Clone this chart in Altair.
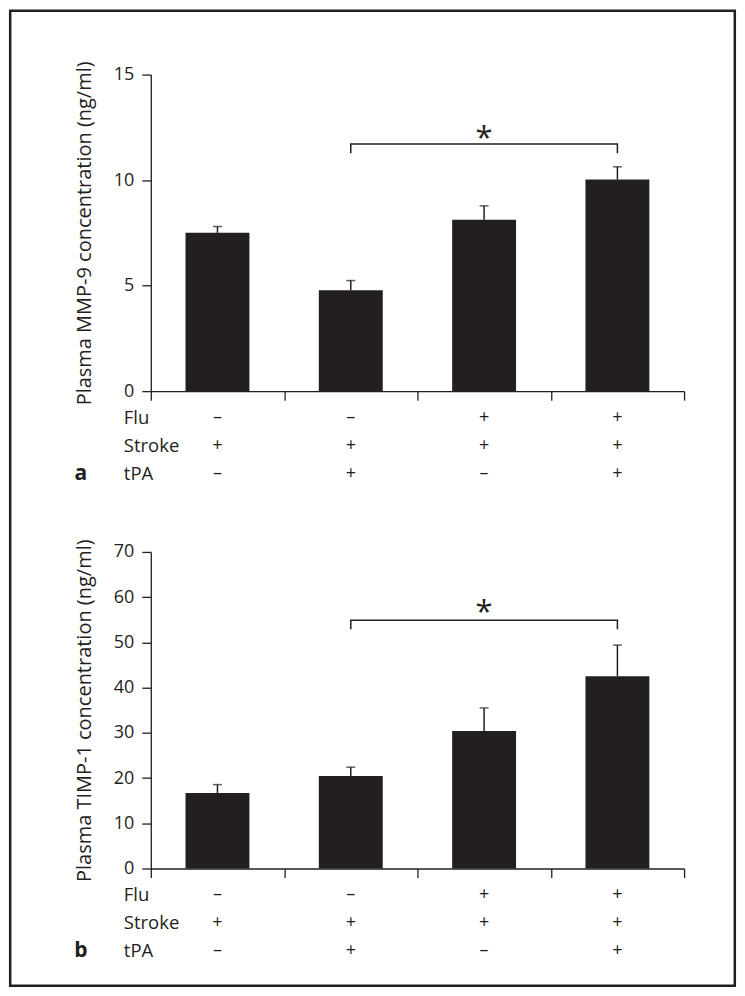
import altair as alt
import pandas as pd

# ---------------- data ----------------
groups = ["G1", "G2", "G3", "G4"]
flu = ["–", "–", "+", "+"]
stroke = ["+", "+", "+", "+"]
tpa = ["–", "+", "–", "+"]
row_labels = ["Flu", "Stroke", "tPA"]

mmp9_mean = [7.5, 4.78, 8.12, 10.03]
mmp9_upper = [7.8, 5.24, 8.78, 10.63]
timp1_mean = [16.7, 20.45, 30.4, 42.5]
timp1_upper = [18.55, 22.4, 35.5, 49.4]

bracket_groups = ["G2", "G4"]
mmp9_bracket = [11.27, 11.71]   # tip, top
timp1_bracket = [52.9, 54.9]
mmp9_star = 12.3
timp1_star = 58.0
star_group = "G3"

INK = "#231f20"
FONT = "Open Sans"
W, H = 534, 317
ROW_Y = [344, 372, 400]


def panel(mean, upper, bracket, star, ymax, ticks, title, letter, frame=False):
    df = pd.DataFrame({"group": groups, "mean": mean, "upper": upper,
                       "flu": flu, "stroke": stroke, "tpa": tpa})
    yscale = alt.Scale(domain=[0, ymax], nice=False, zero=True)
    xscale = alt.Scale(domain=groups, paddingInner=0, paddingOuter=0)
    xaxis = alt.Axis(title=None, labels=False, tickBand="extent", tickSize=9,
                     domainColor=INK, tickColor=INK, domainWidth=1.3, tickWidth=1.3)
    yaxis = alt.Axis(title=title, values=ticks, tickSize=9, labelPadding=8,
                     labelFontSize=18, titleFontSize=20, titleFontWeight="normal",
                     titlePadding=19, grid=False, domainColor=INK, tickColor=INK,
                     domainWidth=1.3, tickWidth=1.3, labelColor=INK, titleColor=INK,
                     labelFont=FONT, titleFont=FONT)

    def X():
        return alt.X("group:N", scale=xscale, axis=xaxis)

    def Y(f):
        return alt.Y(f, scale=yscale, axis=yaxis)

    base = alt.Chart(df)
    bars = base.mark_bar(size=64, color=INK).encode(x=X(), y=Y("mean:Q"))
    stems = base.mark_rule(color=INK, strokeWidth=1.5).encode(
        x=X(), y=Y("mean:Q"), y2="upper:Q")
    caps = base.mark_tick(color=INK, size=9, thickness=1.5).encode(x=X(), y=Y("upper:Q"))
    bdf = pd.DataFrame({
        "group": [bracket_groups[0], bracket_groups[0], bracket_groups[1], bracket_groups[1]],
        "y": [bracket[0], bracket[1], bracket[1], bracket[0]],
        "order": [0, 1, 2, 3],
    })
    brk = alt.Chart(bdf).mark_line(color=INK, strokeWidth=1.5).encode(
        x=X(), y=Y("y:Q"), order=alt.Order("order:Q"))
    sdf = pd.DataFrame({"group": [star_group], "y": [star], "t": ["*"]})
    st = alt.Chart(sdf).mark_text(color=INK, fontSize=31, font=FONT, baseline="middle", dy=7).encode(
        x=X(), y=Y("y:Q"), text="t:N")
    layers = [bars, stems, caps, brk, st]

    for col, yy in zip(["flu", "stroke", "tpa"], ROW_Y):
        layers.append(base.mark_text(color=INK, fontSize=18, font=FONT, baseline="middle").encode(
            x=X(), y=alt.value(yy), text=f"{col}:N"))
    ldf = pd.DataFrame({"label": row_labels, "row": [0, 1, 2]})
    for i, yy in enumerate(ROW_Y):
        layers.append(alt.Chart(ldf[ldf["row"] == i]).mark_text(
            color=INK, fontSize=18.5, font=FONT, align="left", baseline="middle").encode(
            x=alt.value(-27), y=alt.value(yy), text="label:N"))
    pdf = pd.DataFrame({"p": [letter]})
    layers.append(alt.Chart(pdf).mark_text(
        color=INK, fontSize=21, font=FONT, fontWeight="bold", align="center", baseline="middle").encode(
        x=alt.value(-70), y=alt.value(ROW_Y[2]), text="p:N"))

    if frame:
        fdf = pd.DataFrame({"k": [0]})
        layers.append(alt.Chart(fdf).mark_rect(fillOpacity=0, stroke=INK, strokeWidth=2.5).encode(
            x=alt.value(-140.8), x2=alt.value(584.8), y=alt.value(-63.8), y2=alt.value(912.5)))

    return alt.layer(*layers).properties(width=W, height=H)


pa = panel(mmp9_mean, mmp9_upper, mmp9_bracket, mmp9_star, 15, [0, 5, 10, 15],
           "Plasma MMP-9 concentration (ng/ml)", "a", frame=True)
pb = panel(timp1_mean, timp1_upper, timp1_bracket, timp1_star, 70, list(range(0, 71, 10)),
           "Plasma TIMP-1 concentration (ng/ml)", "b")

chart = alt.vconcat(pa, pb, spacing=161, bounds="flush").properties(
    padding=0, background="white"
).configure_view(strokeWidth=0)

chart.save("out.html", embed_options={"renderer": "svg", "actions": False})
